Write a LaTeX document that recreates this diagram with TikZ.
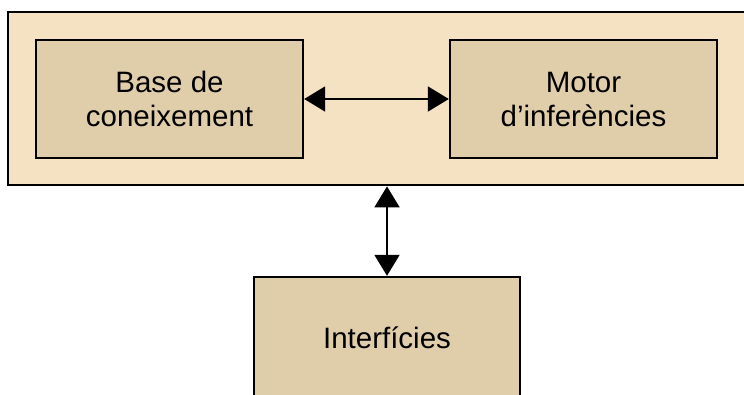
\documentclass[tikz,border=0pt]{standalone}
\usepackage{fontspec}
\setmainfont{Liberation Sans}
\usetikzlibrary{arrows.meta,positioning}
\definecolor{panelfill}{RGB}{245,226,194}
\definecolor{modulfill}{RGB}{224,206,171}

\begin{document}
\begin{tikzpicture}[
  x=1pt, y=-1pt,
  font=\fontsize{29.5}{34}\selectfont,
  box/.style={
    draw, align=center, inner sep=0pt
  },
  panel/.style={box, fill=panelfill, line width=2.8pt,
                minimum width=758pt, minimum height=173pt},
  modul/.style={box, fill=modulfill, line width=2.4pt,
                minimum width=267pt, minimum height=118pt},
  flow/.style={{Triangle[length=21pt,width=25pt]}-{Triangle[length=21pt,width=25pt]},
               line width=2pt},
]
\clip (0,0) rectangle (744,394);
\fill[white] (0,0) rectangle (744,394);

% ---- system -------------------------------------------------------------
\node[panel] (sistema) at (387, 98.5) {};

\node[modul] (base)  at (169.5, 99) {Base de\\coneixement};
\node[modul] (motor) at (583.5, 99) {Motor\\d’inferències};

\draw[flow] (base.east) -- (motor.west);

% ---- interface ----------------------------------------------------------
\node[modul, minimum width=266pt, minimum height=122pt] (interficies)
  at (387, 338) {Interfícies};

\draw[flow] (sistema.south) -- (interficies.north);

\end{tikzpicture}
\end{document}
